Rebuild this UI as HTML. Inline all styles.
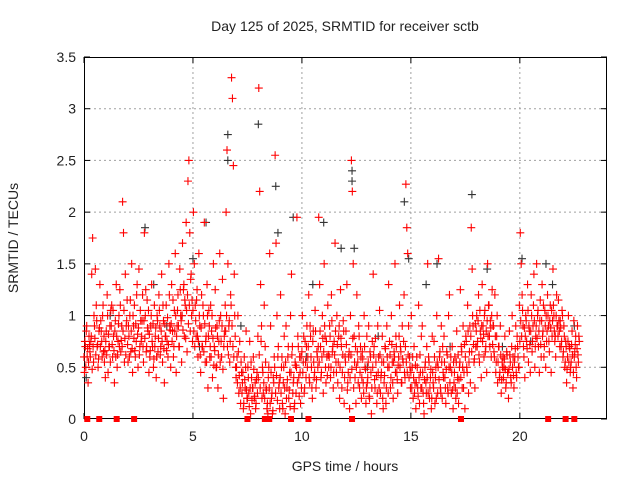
<!DOCTYPE html>
<html><head><meta charset="utf-8"><style>
body{margin:0;background:#fff}
svg{display:block;font-family:"Liberation Sans",sans-serif}
</style></head><body>
<svg id="chart" width="640" height="480" viewBox="0 0 640 480">
<rect width="640" height="480" fill="#fff"/>
<text x="345" y="31" font-size="14" text-anchor="middle" fill="#222">Day 125 of 2025, SRMTID for receiver sctb</text>
<text x="18" y="238" font-size="14" text-anchor="middle" fill="#222" transform="rotate(-90 18 238)">SRMTID / TECUs</text>
<text x="345" y="471" font-size="14" text-anchor="middle" fill="#222">GPS time / hours</text>
<g id="grid"></g><g id="axes"></g><g id="black"></g><g id="red"></g>
</svg>
<script>
const xTicks=[0,5,10,15,20];
const yTicks=[0,0.5,1,1.5,2,2.5,3,3.5];
const yTickLabels=["0","0.5","1","1.5","2","2.5","3","3.5"];
const binWidth=0.25;
const redBins=[
[.45,.7,.85,.6,.35,.8],[.65,.75,1.4,1.75,.55,.9],[1.45,1.1,.7,.5,.85,1.3],[.95,.75,1.0,.65,.55,.4],
[.85,1.2,.45,.7,.9,1.05],[1.1,.6,.8,.35,.95,1.3],[.5,.75,1.0,1.25,.65,.9],[2.1,1.8,.55,1.4,.9,1.15],
[.55,.8,1.0,.65,1.5,.45],[.9,1.1,.6,.75,1.3,.5],[1.45,.7,.95,.8,1.2,.55],[1.8,1.0,.65,1.15,.85,.45],
[.6,.9,1.3,.7,.5,1.1],[.8,.4,1.0,.65,1.2,.9],[.7,1.4,.55,.95,.35,.8],[1.1,.75,.6,1.5,.9,.5],
[1.3,.85,.6,1.05,1.6,.45],[.9,1.2,.7,1.45,1.0,.55],[1.7,1.25,.8,1.1,1.9,.65],[2.3,2.5,1.8,1.35,1.0,.75],
[2.0,1.5,1.1,.8,1.25,.6],[1.6,.9,.45,1.2,.7,1.0],[1.9,.55,.8,1.3,.3,1.05],[.6,1.1,.85,.4,1.5,.7],
[1.25,.5,.9,.3,.75,1.6],[1.0,.6,1.35,.2,.8,1.1],[2.0,2.6,1.5,.9,.55,1.2],[3.3,3.1,2.45,1.4,.8,.4],
[.6,1.0,.25,.75,.15,.45],[.35,.1,.6,.3,.85,.2],[.5,.25,.75,.05,.4,.3],[.6,.2,.35,.15,.45,.8],
[3.2,2.2,1.3,.9,.5,.25],[1.1,.7,.3,.1,.05,.5],[1.6,.9,.2,.05,.4,.6],[2.55,1.7,1.0,.6,.3,.1],
[1.2,.5,.15,.35,.8,.05],[.9,.3,.6,.2,.45,1.0],[1.4,.7,.35,.1,.55,.25],[1.95,.8,.4,.6,.15,.3],
[1.0,.55,.25,.75,.4,.9],[.6,1.2,.35,.8,.5,.2],[.85,.4,1.05,.3,.65,.5],[1.95,1.3,.7,.45,1.0,.25],
[1.5,.8,.35,.6,1.1,.5],[.9,.4,1.2,.65,.3,.75],[1.7,.55,1.0,.35,.8,.2],[1.25,.7,.45,.95,.15,.6],
[.85,1.3,.35,.6,.1,1.0],[2.5,2.2,1.5,.8,.4,.15],[1.2,.55,.9,.3,.7,.2],[.65,.35,1.0,.5,.15,.8],
[.4,.9,.2,.6,.05,.75],[1.4,.7,.3,.55,.15,.9],[.6,1.05,.25,.45,.8,.1],[.35,.7,.15,.9,.5,1.3],
[.75,.3,1.0,.55,.2,.65],[1.5,.8,.45,.25,.6,1.1],[.7,.35,.9,.55,1.2,.4],[2.27,1.85,1.6,.9,.6,.3],
[1.0,.5,.2,.7,.35,.1],[.6,.3,1.1,.15,.45,.8],[.9,.25,.05,.5,.35,.7],[1.5,.6,.2,.4,.1,.8],
[.35,.75,.15,.5,1.0,.25],[1.55,.6,.3,.9,.2,.45],[.8,.4,.15,.65,.3,1.0],[1.2,.5,.25,.7,.1,.35],
[.6,.2,.85,.4,.15,.5],[1.25,.7,.3,.9,.45,.1],[.8,.5,1.1,.25,.65,.35],[1.85,1.45,.9,.55,.3,.7],
[1.0,.75,1.2,.55,.85,.4],[1.3,.9,.6,1.05,.7,.45],[1.5,1.1,.8,.95,.6,1.25],[.9,.65,1.2,.45,.8,.35],
[.7,.4,.9,.25,.55,.6],[.5,.8,.3,.65,.45,.2],[.85,.55,.35,1.0,.6,.3],[.6,.9,.4,.7,.5,1.1],
[1.8,1.5,1.2,.9,.6,.4],[1.0,.75,1.3,.55,.85,.45],[1.2,.65,.9,1.4,.5,.8],[1.5,1.0,.7,.45,1.15,.6],
[1.3,.85,.6,1.05,.5,.75],[1.2,.9,.65,1.1,.45,.8],[1.45,1.0,.75,.6,1.2,.9],[1.15,.85,.95,.7,1.05,.6],
[.9,.5,.75,.35,.6,1.0],[.7,.45,.55,.85,.3,.95],[.65,.8,.4,.9,.55,.75]
];
const redBins2=[
[.6,.75,.5,.9,.68,.55],[.72,.6,.8,.48,.7,1.0],[.78,.62,.95,.72,.58,.88],[.7,.85,.6,1.1,.8,.66],
[.75,.62,1.0,.82,.7,.55],[.9,.72,1.05,.66,.85,.6],[.8,.62,.92,.7,1.1,.76],[.7,.85,1.05,.78,.62,.95],
[.72,.9,.6,1.15,.85,.68],[1.0,.78,.66,.92,1.2,.82],[.88,.62,1.05,.75,.95,.7],[.95,.78,1.25,.7,.88,1.05],
[.82,.66,1.0,.75,.92,.58],[.7,.88,.6,.95,.78,1.05],[.62,.85,.75,1.1,.68,.92],[.8,.66,.98,.72,1.2,.86],
[.92,.75,1.15,.7,.85,1.0],[.8,1.05,.9,.7,1.25,.95],[1.0,.86,1.3,1.15,.78,1.05],[1.2,.92,1.1,.85,1.4,1.15],
[1.05,.85,.7,.95,1.15,.8],[.75,1.0,.62,.88,.7,1.1],[.65,.92,.75,.55,1.0,.8],[.9,.7,.6,1.0,.78,.52],
[.66,.88,.5,.8,.62,.95],[.55,.75,.9,.48,.7,.85],[.85,1.0,.7,.62,.95,.75],[1.1,.9,.7,.6,1.0,.5],
[.5,.35,.65,.42,.3,.55],[.25,.45,.15,.38,.5,.28],[.2,.4,.12,.3,.55,.18],[.3,.48,.22,.1,.38,.25],
[.4,.62,.3,.75,.2,.45],[.35,.2,.55,.28,.15,.4],[.3,.15,.45,.25,.08,.35],[.5,.25,.42,.18,.7,.35],
[.4,.25,.6,.1,.5,.3],[.55,.2,.38,.7,.28,.12],[.45,.62,.25,.4,.15,.52],[.5,.35,.7,.22,.45,.6],
[.65,.45,.8,.3,.55,.7],[.5,.7,.4,.9,.6,.3],[.75,.55,.45,.85,.38,.6],[.7,.55,.85,.4,.6,.78],
[.65,.9,.5,.75,.42,.62],[.6,.8,.5,.95,.7,.45],[.62,.85,.45,.72,.55,.9],[.5,.78,.3,.62,.85,.4],
[.55,.72,.28,.45,.65,.4],[.62,.48,.78,.3,.55,.7],[.5,.65,.35,.8,.45,.6],[.4,.58,.25,.7,.48,.3],
[.35,.55,.22,.65,.45,.3],[.5,.62,.38,.78,.42,.25],[.45,.3,.62,.4,.55,.2],[.55,.42,.68,.3,.6,.25],
[.5,.62,.4,.72,.35,.55],[.6,.45,.7,.38,.52,.8],[.5,.65,.35,.58,.75,.45],[.7,.55,.45,.62,.4,.5],
[.45,.3,.6,.4,.25,.52],[.35,.5,.22,.4,.62,.3],[.3,.45,.15,.38,.55,.25],[.4,.25,.55,.3,.48,.2],
[.45,.3,.6,.4,.2,.55],[.5,.38,.65,.25,.55,.7],[.4,.55,.3,.48,.62,.25],[.5,.35,.6,.45,.28,.55],
[.45,.3,.55,.25,.62,.38],[.55,.4,.65,.5,.3,.72],[.6,.75,.45,.85,.55,.9],[.8,.65,1.0,.72,.58,.92],
[.85,.7,.95,.62,1.05,.78],[.9,.75,.82,1.0,.65,.85],[.95,.8,1.1,.7,.88,1.0],[.72,.9,.6,.8,.55,1.0],
[.55,.7,.45,.62,.38,.5],[.4,.58,.48,.35,.62,.45],[.48,.62,.4,.7,.5,.42],[.55,.68,.45,.8,.6,.5],
[.75,.95,.8,1.05,.7,.88],[.8,.95,.68,1.05,.9,.72],[.85,1.0,.75,1.1,.95,.7],[.9,.78,1.05,.85,.95,.72],
[.95,.8,1.1,.7,.9,1.0],[.85,1.0,.75,.95,.88,1.05],[.95,1.1,.85,.8,1.0,.9],[.8,.95,.7,.88,.75,1.0],
[.65,.8,.55,.7,.48,.75],[.55,.68,.5,.72,.62,.45],[.6,.72,.5,.68,.62,.8]
];
const zeroTimes=[0.15,0.7,1.5,2.3,7.5,8.3,8.5,9.5,10.3,12.3,17.3,21.3,22.1,22.5];
const blackT=[0.1,1.2,2.8,3.2,4.5,5.0,5.6,6.6,6.6,7.2,8.0,8.8,8.9,9.6,10.5,11.0,11.8,12.3,12.3,12.4,13.5,14.7,14.9,15.7,16.2,17.8,18.5,19.2,20.1,21.2,21.5,22.5,3.8,5.3,10.2,13.0,16.8,20.5];
const blackV=[0.4,1.0,1.85,1.3,1.0,1.55,1.9,2.75,2.5,0.9,2.85,2.25,1.8,1.95,1.3,1.9,1.65,2.4,2.3,1.65,0.8,2.1,1.55,1.3,1.5,2.17,1.45,0.7,1.55,1.5,1.3,0.9,0.9,0.7,0.6,0.5,0.7,0.75];

const L=84,R=607,T=57,B=419,XMAX=24,YMAX=3.5;
const xs=t=>L+(R-L)*t/XMAX, ys=v=>B-(B-T)*v/YMAX;
const NS="http://www.w3.org/2000/svg";
function mk(tag,attrs,parent){const e=document.createElementNS(NS,tag);for(const k in attrs)e.setAttribute(k,attrs[k]);parent.appendChild(e);return e;}
const grid=document.getElementById('grid'),axes=document.getElementById('axes');
xTicks.forEach(t=>{const x=xs(t);
 if(t>0){const g=mk('line',{x1:x,x2:x,y1:T,y2:B,stroke:'#a0a0a0','stroke-dasharray':'2,3','stroke-width':1},grid);
 
 }
 const lb=mk('text',{x:x,y:B+22,'font-size':14,'text-anchor':'middle',fill:'#222'},axes);lb.textContent=t;
 
 
 mk('line',{x1:x,x2:x,y1:B,y2:B-6,stroke:'#000'},axes);mk('line',{x1:x,x2:x,y1:T,y2:T+6,stroke:'#000'},axes);
});
yTicks.forEach((v,i)=>{const y=ys(v);
 if(v>0&&v<YMAX){const g=mk('line',{x1:L,x2:R,y1:y,y2:y,stroke:'#a0a0a0','stroke-dasharray':'2,3','stroke-width':1},grid);
 
 }
 const lb=mk('text',{x:L-8,y:y+5,'font-size':14,'text-anchor':'end',fill:'#222'},axes);lb.textContent=yTickLabels[i];
 
 
 mk('line',{x1:L,x2:L+6,y1:y,y2:y,stroke:'#000'},axes);mk('line',{x1:R,x2:R-6,y1:y,y2:y,stroke:'#000'},axes);
});
const fr=mk('rect',{x:L+0.5,y:T+0.5,width:R-L-1,height:B-T-1,fill:'none',stroke:'#000','stroke-width':1},axes);


function plus(x,y,col,g){return mk('path',{d:`M${x-4} ${y}H${x+4}M${x} ${y-4}V${y+4}`,stroke:col,'stroke-width':1.1,fill:'none'},g);}
const bg=document.getElementById('black');
blackT.forEach((t,i)=>{const p=plus(xs(t),ys(blackV[i]),'#333',bg);
 
 });
const rg=document.getElementById('red');
function drawBins(bins,off){bins.forEach((vals,b)=>{vals.forEach((v,j)=>{const t=b*binWidth+binWidth*(j+off)/vals.length;
 const p=plus(xs(t),ys(v),'#ff0000',rg);
 
 });});}
drawBins(redBins,0.5);
drawBins(redBins2,0.0);
zeroTimes.forEach(t=>{const r=mk('rect',{x:xs(t)-3,y:B-3,width:6,height:6,fill:'#ff0000'},rg);
 
 });
</script>
</body></html>
